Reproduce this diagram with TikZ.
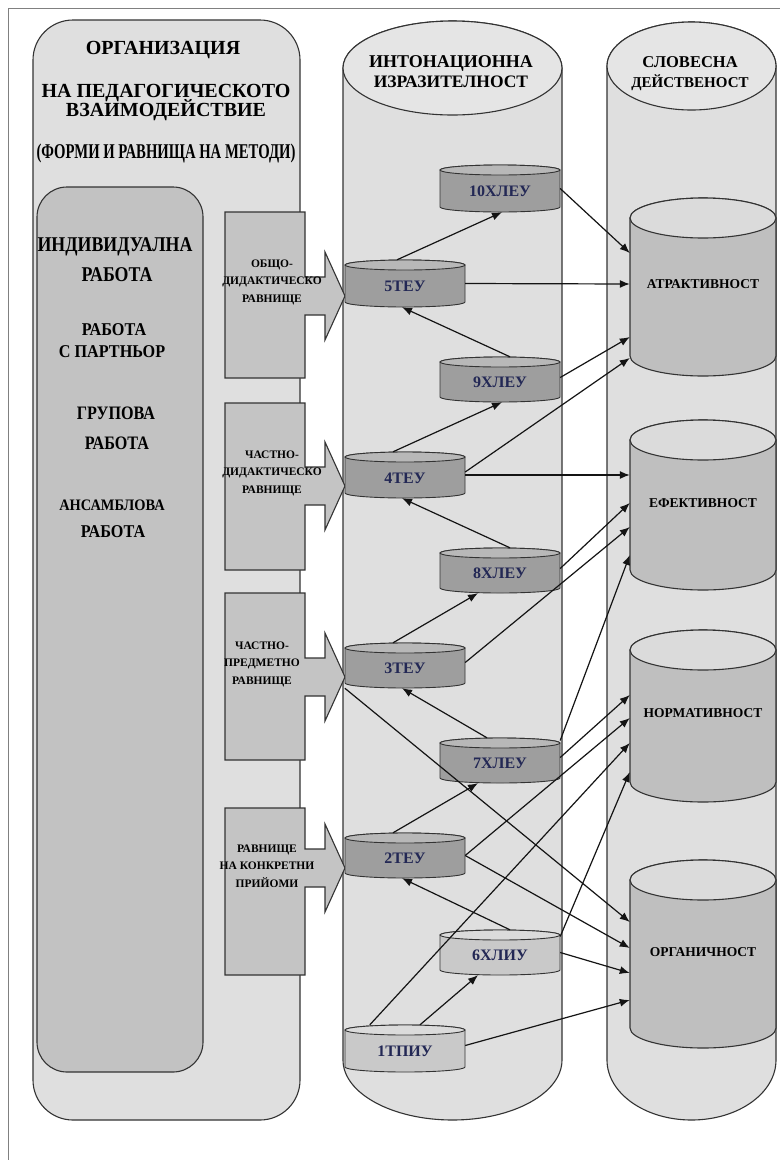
\documentclass[tikz,border=0pt]{standalone}
\usepackage{fontspec}
\usepackage{graphicx}
\setmainfont{Liberation Serif}
\usetikzlibrary{arrows.meta,calc}
\definecolor{colbg}{gray}{0.875}
\definecolor{coltop}{gray}{0.9}
\definecolor{innerfill}{gray}{0.76}
\definecolor{boxfill}{gray}{0.77}
\definecolor{cdark}{gray}{0.62}
\definecolor{cdarktop}{gray}{0.72}
\definecolor{clight}{gray}{0.79}
\definecolor{clighttop}{gray}{0.86}
\definecolor{bigbody}{gray}{0.75}
\definecolor{bigtop}{gray}{0.86}
\definecolor{navy}{RGB}{35,40,85}
\definecolor{edge}{gray}{0.2}
\newcommand{\fs}[1]{\fontsize{#1}{#1}\selectfont}
\newcommand{\sx}[2]{\scalebox{#1}[1]{#2}}
\tikzset{
  txt/.style={inner sep=0pt, font=\bfseries},
  boxtxt/.style={inner sep=0pt, align=center, font=\bfseries\fontsize{11.5}{17.5}\selectfont},
  cyltxt/.style={inner sep=0pt, text=navy, font=\bfseries\fs{16}},
  bigtxt/.style={inner sep=0pt, font=\bfseries\fs{13.5}},
  shapeonly/.style={inner sep=0pt, draw=none},
  outline/.style={draw=edge, line width=1.1pt},
  conn/.style={draw=black!92, line width=1.2pt, -{Latex[length=10pt,width=8pt]}}
}
% small cylinder: name, left x, top y, bottom y, body colour, top colour, label
\newcommand{\smallcyl}[7]{%
  \path[outline, line width=0.9pt, fill=#5] (#2,#3+5) -- (#2,#4-5)
    arc[start angle=180,end angle=0,x radius=60,y radius=5] -- (#2+120,#3+5)
    arc[start angle=0,end angle=-180,x radius=60,y radius=5] -- cycle;
  \path[outline, line width=0.9pt, fill=#6] (#2+60,#3+5) ellipse[x radius=60,y radius=5];
  \node[shapeonly, minimum width=120pt, minimum height=#4-#3] (#1) at (#2+60,{(#3+#4)/2}) {};
  \node[cyltxt] (#1t) at (#2+60,{(#3+#4)/2+3}) {#7};
}
% big cylinder: name, top centre y, bottom centre y, label y, label
\newcommand{\bigcyl}[5]{%
  \path[outline, fill=bigbody] (630,#2) -- (630,#3)
    arc[start angle=180,end angle=0,x radius=73,y radius=20] -- (776,#2)
    arc[start angle=0,end angle=-180,x radius=73,y radius=20] -- cycle;
  \path[outline, fill=bigtop] (703,#2) ellipse[x radius=73,y radius=20];
  \node[shapeonly, minimum width=146pt, minimum height=#3-#2+40] (#1) at (703,{(#2+#3)/2}) {};
  \node[bigtxt] (#1t) at (703,#4) {#5};
}
% box with block arrow: name, top, bottom, arrow centre
\newcommand{\boxarrow}[4]{%
  \path[outline, fill=boxfill] (225,#2) -- (305,#2) -- (305,#4-19) -- (325,#4-19)
    -- (325,#4-44) -- (345,#4) -- (325,#4+44) -- (325,#4+19) -- (305,#4+19)
    -- (305,#3) -- (225,#3) -- cycle;
  \node[shapeonly, minimum width=80pt, minimum height=#3-#2] (#1) at (265,{(#2+#3)/2}) {};
}
\begin{document}
\begin{tikzpicture}[x=1pt,y=-1pt]
\useasboundingbox (0,0) rectangle (780,1160);
\fill[white] (0,0) rectangle (780,1160);
\draw[gray, line width=0.8pt] (8,1160) -- (8,8) -- (780,8);

% left column
\draw[outline, fill=colbg, rounded corners=40pt] (33,20) rectangle (300,1120);
\draw[outline, fill=innerfill, rounded corners=30pt] (37,187) rectangle (203,1072);

% middle column
\path[outline, fill=colbg] (343,68) -- (343,1060)
  arc[start angle=180,end angle=0,x radius=109.5,y radius=60] -- (562,68)
  arc[start angle=0,end angle=-180,x radius=109.5,y radius=47] -- cycle;
\path[outline, fill=coltop] (452.5,68) ellipse[x radius=109.5,y radius=47];

% right column
\path[outline, fill=colbg] (607,66) -- (607,1060)
  arc[start angle=180,end angle=0,x radius=84.5,y radius=60] -- (776,66)
  arc[start angle=0,end angle=-180,x radius=84.5,y radius=44] -- cycle;
\path[outline, fill=coltop] (691.5,66) ellipse[x radius=84.5,y radius=44];

% headers
\node[txt, font=\bfseries\fs{20}] (h1) at (163,50) {ОРГАНИЗАЦИЯ};
\node[txt, font=\bfseries\fs{20}] (h2) at (166,93) {НА ПЕДАГОГИЧЕСКОТО};
\node[txt, font=\bfseries\fs{20}] (h3) at (166,110) {ВЗАИМОДЕЙСТВИЕ};
\node[txt, font=\bfseries\fs{21}] (h4) at (166,153) {\sx{0.7}{(ФОРМИ И РАВНИЩА НА МЕТОДИ)}};

\node[txt, font=\bfseries\fs{18}] (m1) at (451,63) {ИНТОНАЦИОННА};
\node[txt, font=\bfseries\fs{17.5}] (m2) at (451,82) {ИЗРАЗИТЕЛНОСТ};
\node[txt, font=\bfseries\fs{16.5}] (r1) at (690,62) {СЛОВЕСНА};
\node[txt, font=\bfseries\fs{15}] (r2) at (690,83) {ДЕЙСТВЕНОСТ};

% forms of work
\node[txt, font=\bfseries\fs{21}] (f1) at (115,247) {\sx{0.85}{ИНДИВИДУАЛНА}};
\node[txt, font=\bfseries\fs{21}] (f2) at (117,275) {\sx{0.85}{РАБОТА}};
\node[txt, font=\bfseries\fs{18}] (f3) at (114,330) {\sx{0.9}{РАБОТА}};
\node[txt, font=\bfseries\fs{18}] (f4) at (112,352) {\sx{0.9}{С ПАРТНЬОР}};
\node[txt, font=\bfseries\fs{19}] (f5) at (116,413) {\sx{0.85}{ГРУПОВА}};
\node[txt, font=\bfseries\fs{19}] (f6) at (117,443) {\sx{0.85}{РАБОТА}};
\node[txt, font=\bfseries\fs{16}] (f7) at (112,505) {\sx{0.9}{АНСАМБЛОВА}};
\node[txt, font=\bfseries\fs{18}] (f8) at (113,532) {\sx{0.9}{РАБОТА}};

% levels (box arrows)
\boxarrow{b1}{212}{378}{296}
\boxarrow{b2}{403}{570}{486}
\boxarrow{b3}{593}{760}{677}
\boxarrow{b4}{808}{975}{868}
\node[boxtxt] (b1t) at (272,282) {ОБЩО-\\ДИДАКТИЧЕСКО\\РАВНИЩЕ};
\node[boxtxt] (b2t) at (272,473) {ЧАСТНО-\\ДИДАКТИЧЕСКО\\РАВНИЩЕ};
\node[boxtxt] (b3t) at (262,664) {ЧАСТНО-\\ПРЕДМЕТНО\\РАВНИЩЕ};
\node[boxtxt] (b4t) at (267,866) {РАВНИЩЕ\\НА КОНКРЕТНИ\\ПРИЙОМИ};

% small cylinders
\smallcyl{c10}{440}{165}{212}{cdark}{cdarktop}{10ХЛЕУ}
\smallcyl{c5}{345}{260}{307}{cdark}{cdarktop}{5ТЕУ}
\smallcyl{c9}{440}{357}{402}{cdark}{cdarktop}{9ХЛЕУ}
\smallcyl{c4}{345}{452}{498}{cdark}{cdarktop}{4ТЕУ}
\smallcyl{c8}{440}{548}{593}{cdark}{cdarktop}{8ХЛЕУ}
\smallcyl{c3}{345}{643}{688}{cdark}{cdarktop}{3ТЕУ}
\smallcyl{c7}{440}{738}{783}{cdark}{cdarktop}{7ХЛЕУ}
\smallcyl{c2}{345}{833}{878}{cdark}{cdarktop}{2ТЕУ}
\smallcyl{c6}{440}{930}{975}{clight}{clighttop}{6ХЛИУ}
\smallcyl{c1}{345}{1025}{1072}{clight}{clighttop}{1ТПИУ}

% big cylinders
\bigcyl{atr}{218}{356}{284}{АТРАКТИВНОСТ}
\bigcyl{ef}{440}{570}{503}{ЕФЕКТИВНОСТ}
\bigcyl{norm}{650}{782}{713}{НОРМАТИВНОСТ}
\bigcyl{org}{880}{1028}{952}{ОРГАНИЧНОСТ}

% links between small cylinders
\draw[conn] ([xshift=-8pt]c5.north) -- ([xshift=2pt]c10.south);
\draw[conn] ([xshift=10pt]c9.north) -- ([xshift=-3pt]c5.south);
\draw[conn] ([xshift=-12pt]c4.north) -- ([xshift=2pt]c9.south);
\draw[conn] ([xshift=10pt]c8.north) -- ([xshift=-3pt]c4.south);
\draw[conn] ([xshift=-12pt]c3.north) -- ([xshift=-22pt]c8.south);
\draw[conn] ([xshift=-13pt]c7.north) -- ([xshift=-3pt]c3.south);
\draw[conn] ([xshift=-12pt]c2.north) -- ([xshift=-22pt]c7.south);
\draw[conn] ([xshift=10pt]c6.north) -- ([xshift=-3pt]c2.south);
\draw[conn] ([xshift=15pt]c1.north) -- ([xshift=-22pt]c6.south);

% links to the verbal qualities
\draw[conn] (c10.east) -- ([yshift=34pt]atr.west);
\draw[conn] (c5.east) -- ([yshift=3pt]atr.west);
\draw[conn] ([yshift=2pt]c9.east) -- ([yshift=-50pt]atr.west);
\draw[conn] ([yshift=3pt]c4.east) -- ([yshift=-71pt]atr.west);
\draw[conn] (c4.east) -- ([yshift=30pt]ef.west);
\draw[conn] ([yshift=2pt]c8.east) -- ([yshift=2pt]ef.west);
\draw[conn] ([yshift=3pt]c3.east) -- ([yshift=-22pt]ef.west);
\draw[conn] ([yshift=20pt]c7.east) -- ([yshift=-50pt]ef.west);
\draw[conn] ([yshift=3pt]c7.east) -- ([yshift=21pt]norm.west);
\draw[conn] (c2.east) -- ([yshift=-2pt]norm.west);
\draw[conn] ([xshift=25pt]c1.north west) -- ([yshift=-27pt]norm.west);
\draw[conn] ([yshift=16pt]c6.east) -- ([yshift=-56pt]norm.west);
\draw[conn] (c3.south west) -- ([yshift=32pt]org.west);
\draw[conn] (c2.east) -- ([yshift=6pt]org.west);
\draw[conn] (c6.east) -- ([yshift=-19pt]org.west);
\draw[conn] ([yshift=3pt]c1.east) -- ([yshift=-46pt]org.west);
\end{tikzpicture}
\end{document}
